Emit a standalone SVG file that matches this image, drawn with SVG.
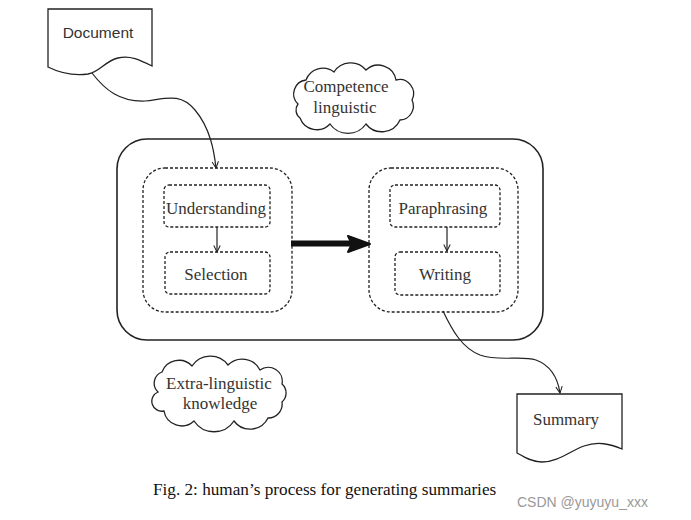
<svg xmlns="http://www.w3.org/2000/svg" width="691" height="520" viewBox="0 0 691 520">
<defs>
<style>
.shape{fill:#fff;stroke:#222;stroke-width:1.3}
.dot{fill:none;stroke:#222;stroke-width:1.3;stroke-dasharray:3 2}
.con{fill:none;stroke:#222;stroke-width:1.2}
.serif{font-family:"Liberation Serif","Times New Roman",serif;font-size:17px;fill:#333;text-anchor:middle;dominant-baseline:central}
.sans{font-family:"Liberation Sans",Arial,sans-serif;font-size:15.5px;fill:#333;text-anchor:middle;dominant-baseline:central}
</style>
<marker id="arr" viewBox="0 0 10 10" refX="9" refY="5" markerWidth="8" markerHeight="8" orient="auto" markerUnits="userSpaceOnUse">
<path d="M1,1 L9,5 L1,9" fill="none" stroke="#222" stroke-width="1.3"/>
</marker>
</defs>
<rect width="691" height="520" fill="#fff"/>

<g id="outer">
<rect x="117" y="139" width="426" height="201" rx="30" ry="30" fill="none" stroke="#222" stroke-width="1.6"/>
</g>

<g id="document">
<path class="shape" d="M48,9 L152,9 L152,66 C140,60 130,55 118,58 C105,61 100,72 88,74 C72,76 58,72 48,67 Z"/>
<text class="sans" x="98" y="32">Document</text>
</g>

<g id="competence">
<path class="shape" d="M298,104 a14,14 0 0 1 8,-24 a18,18 0 0 1 28,-8 a20,20 0 0 1 32,-2 a18,18 0 0 1 30,10 a14,14 0 0 1 16,20 a14,14 0 0 1 -12,20 a20,20 0 0 1 -34,4 a22,22 0 0 1 -36,0 a18,18 0 0 1 -30,-6 a10,10 0 0 1 -2,-14 Z"/>
<text class="serif" x="346" y="86">Competence</text>
<text class="serif" x="345" y="107">linguistic</text>
</g>

<g id="left-group">
<rect class="dot" x="143" y="168" width="149" height="144" rx="22" ry="22"/>
</g>
<g id="understanding">
<rect class="dot" x="164" y="185" width="106" height="42" rx="5" ry="5"/>
<text class="serif" x="216" y="208">Understanding</text>
</g>
<g id="selection">
<rect class="dot" x="165" y="252" width="105" height="42" rx="5" ry="5"/>
<text class="serif" x="216" y="274">Selection</text>
</g>

<g id="right-group">
<rect class="dot" x="369" y="168" width="149" height="144" rx="22" ry="22"/>
</g>
<g id="paraphrasing">
<rect class="dot" x="390" y="185" width="110" height="42" rx="5" ry="5"/>
<text class="serif" x="443" y="208">Paraphrasing</text>
</g>
<g id="writing">
<rect class="dot" x="395" y="252" width="105" height="43" rx="5" ry="5"/>
<text class="serif" x="445" y="274">Writing</text>
</g>

<g id="extra">
<path class="shape" d="M158,392 a12,12 0 0 1 4,-20 a18,18 0 0 1 30,-6 a22,22 0 0 1 36,-1 a20,20 0 0 1 32,5 a14,14 0 0 1 22,14 a12,12 0 0 1 0,18 a14,14 0 0 1 -14,16 a20,20 0 0 1 -34,3 a24,24 0 0 1 -40,0 a18,18 0 0 1 -30,-10 a10,10 0 0 1 -6,-19 Z"/>
<text class="serif" x="219" y="383">Extra-linguistic</text>
<text class="serif" x="220" y="403">knowledge</text>
</g>

<g id="summary">
<path class="shape" d="M517,394 L622,394 L622,449 C610,444 598,441 584,446 C570,451 558,462 542,462 C532,462 524,457 517,453 Z"/>
<text class="serif" x="566" y="419">Summary</text>
</g>

<g id="connectors">
<path class="con" d="M92,73 C105,90 120,102 145,101 C165,99 180,92 195,110 C210,128 214,150 216,168" marker-end="url(#arr)"/>
<path class="con" d="M217,227 L217,252" marker-end="url(#arr)"/>
<path class="con" d="M447,227 L447,251" marker-end="url(#arr)"/>
<path class="con" d="M443,311 C452,330 462,348 480,355 C500,362 520,355 536,360 C552,366 558,380 560,393" marker-end="url(#arr)"/>
<path d="M291,243.5 L360,243.5" stroke="#111" stroke-width="6" fill="none"/>
<path d="M348,236 L370,244 L348,252 L352,244 Z" fill="#111" stroke="#111" stroke-width="2" stroke-linejoin="round"/>
</g>

<text x="153" y="495" font-family="'Liberation Serif','Times New Roman',serif" font-size="17.2" fill="#111">Fig. 2: human’s process for generating summaries</text>
<text x="517" y="507" font-family="'Liberation Sans',Arial,sans-serif" font-size="14" fill="#999">CSDN @yuyuyu_xxx</text>
</svg>
